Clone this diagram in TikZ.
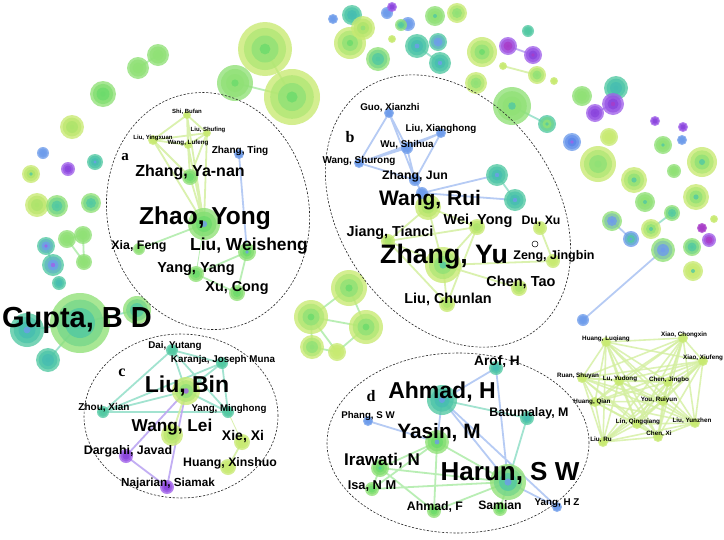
\documentclass[tikz,border=0pt]{standalone}
\usepackage{fontspec}
\setmainfont{Liberation Sans}
\newfontfamily\serifb{Liberation Serif}
\definecolor{cLime}{HTML}{C8EA72}
\definecolor{cLimeI}{HTML}{ADE46B}
\definecolor{cGreen}{HTML}{90E176}
\definecolor{cGreenI}{HTML}{6CDB6C}
\definecolor{cTeal}{HTML}{52C9A2}
\definecolor{cTealI}{HTML}{46BDB2}
\definecolor{cBlue}{HTML}{6E9CEB}
\definecolor{cBlueI}{HTML}{5A86EA}
\definecolor{cPurp}{HTML}{A060EA}
\definecolor{cPurpI}{HTML}{8A44DC}
\definecolor{cMag}{HTML}{A83CC8}
\definecolor{eLc}{HTML}{D4EFA0}
\definecolor{eGc}{HTML}{A8EAA2}
\definecolor{eTc}{HTML}{92DFC8}
\definecolor{eBc}{HTML}{AFC6F3}
\definecolor{ePc}{HTML}{BCA6F2}
\pgfdeclarelayer{bgpaper}
\pgfdeclarelayer{edges}
\pgfsetlayers{bgpaper,edges,main}
\newcommand\bub[7]{%
  \coordinate (#1) at (#2,#3);
  \fill[#5,opacity=.78] (#1) circle (#4pt);
  \fill[#5!55!#6,opacity=.75] (#1) circle ({0.78*#4pt});
  \fill[#6,opacity=.8] (#1) circle ({0.5*#4pt});
  \fill[#7,opacity=.8] (#1) circle ({0.2*#4pt});
}
\begin{document}
\begin{tikzpicture}[x=1pt,y=-1pt,
  lab/.style={inner sep=0pt, font=\bfseries\fontsize{#1}{#1}\selectfont},
  tag/.style={inner sep=0pt, font=\serifb\bfseries\fontsize{#1}{#1}\selectfont},
  ell/.style={draw=black!85, line width=.6pt, dash pattern=on 2.2pt off 1.6pt},
  eL/.style={draw=eLc, line width=1.8pt, opacity=.85},
  eG/.style={draw=eGc, line width=1.8pt, opacity=.8},
  eT/.style={draw=eTc, line width=1.8pt, opacity=.85},
  eB/.style={draw=eBc, line width=1.8pt, opacity=.9},
  eP/.style={draw=ePc, line width=1.8pt, opacity=.9},
  eR/.style={draw=eLc, line width=1.6pt, opacity=.8}]
\begin{pgfonlayer}{bgpaper}
\fill[white] (0,0) rectangle (724,539);
\end{pgfonlayer}
\useasboundingbox (0,0) rectangle (724,539);

% ---------- top-left scattered bubbles
\bub{t1}{265}{49}{27}{cLime}{cGreen}{cGreenI}
\bub{t2}{292}{97}{28}{cLime}{cGreen}{cGreenI}
\bub{t3}{235}{83}{18}{cGreen}{cGreen}{cGreenI}
\bub{t4}{158}{55}{11}{cGreen}{cGreen}{cGreen}
\bub{t5}{138}{68}{11}{cGreen}{cGreen}{cGreen}
\bub{t6}{103}{94}{13}{cGreen}{cGreenI}{cGreenI}
\bub{t7}{72}{127}{12}{cLime}{cLimeI}{cLimeI}
\bub{t8}{43}{153}{6}{cBlue}{cBlue}{cBlue}
\bub{t9}{68}{169}{7}{cPurp}{cPurpI}{cPurpI}
\bub{t10}{95}{162}{8}{cTeal}{cTealI}{cBlue}
\bub{t11}{31}{174}{9}{cLime}{cLimeI}{cTeal}
\bub{t12}{37}{205}{12}{cLime}{cLimeI}{cLimeI}
\bub{t13}{57}{206}{11}{cGreen}{cTeal}{cTeal}
\bub{t14}{91}{203}{10}{cGreen}{cTeal}{cTeal}
\bub{t15}{46}{246}{9}{cTeal}{cBlue}{cPurp}
\bub{t16}{67}{239}{9}{cGreen}{cGreen}{cGreen}
\bub{t17}{83}{235}{9}{cGreen}{cGreen}{cGreen}
\bub{t18}{84}{262}{8}{cGreen}{cGreen}{cGreen}
\bub{t19}{53}{265}{11}{cTeal}{cBlue}{cPurp}
\bub{t20}{59}{283}{7}{cTeal}{cTealI}{cTealI}
\bub{g2}{27}{330}{17}{cTeal}{cTealI}{cBlue}
\bub{g3}{48}{360}{12}{cTeal}{cTealI}{cTealI}
\bub{g4}{137}{310}{14}{cGreen}{cTeal}{cTeal}
\bub{g1}{80}{323}{30}{cGreen}{cTeal}{cTeal}

% ---------- bubbles below b
\bub{p1}{349}{288}{18}{cLime}{cGreen}{cGreenI}
\bub{p2}{311}{317}{17}{cLime}{cGreen}{cGreenI}
\bub{p3}{366}{327}{17}{cLime}{cGreen}{cGreenI}
\bub{p4}{312}{347}{12}{cLime}{cGreen}{cGreen}
\bub{p5}{337}{352}{9}{cLime}{cLime}{cLime}

% ---------- top-right scattered bubbles
\bub{s1}{333}{19}{5}{cBlue}{cBlue}{cBlue}
\bub{s2}{352}{15}{10}{cTeal}{cTealI}{cTealI}
\bub{s4}{350}{43}{16}{cLime}{cGreen}{cGreenI}
\bub{s3}{363}{28}{12}{cLime}{cLimeI}{cGreen}
\bub{s5}{387}{13}{6}{cBlue}{cBlue}{cBlue}
\bub{s6}{392}{7}{5}{cPurp}{cPurpI}{cPurpI}
\bub{s7}{408}{24}{7}{cBlue}{cBlue}{cBlue}
\bub{s8}{401}{25}{6}{cGreen}{cTeal}{cTeal}
\bub{s9}{435}{16}{10}{cGreen}{cGreen}{cTeal}
\bub{s10}{457}{13}{10}{cLime}{cGreen}{cGreen}
\bub{s11}{392}{39}{4}{cLime}{cLime}{cLime}
\bub{s12}{417}{46}{12}{cTeal}{cTealI}{cBlue}
\bub{s13}{438}{42}{9}{cTeal}{cBlue}{cBlue}
\bub{s14}{378}{59}{12}{cGreen}{cTeal}{cTeal}
\bub{s15}{440}{63}{11}{cTeal}{cTealI}{cBlue}
\bub{s16}{482}{52}{15}{cLime}{cGreen}{cGreenI}
\bub{s17}{508}{46}{9}{cPurp}{cMag}{cMag}
\bub{s18}{528}{31}{6}{cTeal}{cTeal}{cTeal}
\bub{s19}{533}{55}{9}{cPurp}{cPurpI}{cMag}
\bub{s20}{503}{66}{4}{cLime}{cLime}{cLime}
\bub{s21}{537}{75}{9}{cLime}{cGreen}{cGreen}
\bub{s22}{554}{81}{4}{cLime}{cLime}{cLime}
\bub{s23}{476}{83}{11}{cLime}{cGreen}{cGreen}
\bub{s24}{512}{106}{19}{cGreen}{cGreen}{cTeal}
\bub{s25}{547}{124}{9}{cTeal}{cGreen}{cTeal}
\bub{s26}{582}{96}{10}{cGreen}{cGreen}{cGreen}
\bub{s27}{616}{88}{12}{cTeal}{cTealI}{cTealI}
\bub{s28}{613}{104}{11}{cPurp}{cPurpI}{cMag}
\bub{s29}{595}{113}{9}{cPurp}{cPurpI}{cPurpI}
\bub{s30}{572}{142}{9}{cBlue}{cBlueI}{cPurp}
\bub{s31}{609}{137}{9}{cLime}{cLime}{cLime}
\bub{s32}{598}{164}{18}{cLime}{cGreen}{cGreen}
\bub{s33}{655}{121}{5}{cPurp}{cPurpI}{cPurpI}
\bub{s34}{683}{127}{5}{cPurp}{cPurpI}{cPurpI}
\bub{s35}{682}{140}{5}{cBlue}{cBlue}{cBlue}
\bub{s36}{663}{145}{9}{cGreen}{cGreen}{cTeal}
\bub{s37}{702}{162}{15}{cLime}{cGreen}{cTeal}
\bub{s38}{634}{180}{13}{cLime}{cGreen}{cTeal}
\bub{s39}{674}{171}{7}{cGreen}{cGreen}{cGreen}
\bub{s40}{645}{202}{10}{cGreen}{cGreen}{cTeal}
\bub{s41}{696}{197}{13}{cLime}{cGreen}{cTeal}
\bub{s42}{672}{213}{8}{cGreen}{cTeal}{cTeal}
\bub{s43}{612}{221}{10}{cGreen}{cBlue}{cBlue}
\bub{s44}{651}{229}{10}{cLime}{cGreen}{cTeal}
\bub{s45}{631}{239}{8}{cBlue}{cTeal}{cBlue}
\bub{s46}{714}{219}{4}{cLime}{cLime}{cLime}
\bub{s47}{702}{228}{5}{cMag}{cMag}{cMag}
\bub{s48}{709}{240}{7}{cPurp}{cMag}{cMag}
\bub{s49}{692}{247}{9}{cGreen}{cTeal}{cTeal}
\bub{s50}{663}{250}{12}{cGreen}{cBlue}{cBlue}
\bub{s51}{693}{271}{10}{cLime}{cLime}{cTeal}
\bub{s52}{583}{320}{6}{cBlue}{cBlue}{cBlue}

% ---------- cluster a
\bub{sb}{187}{115}{4}{cLime}{cLime}{cLime}
\bub{ls}{207}{133}{4}{cLime}{cLime}{cLime}
\bub{ly}{153}{140}{5}{cLime}{cLime}{cLime}
\bub{wl}{188}{145}{4}{cLime}{cLime}{cLime}
\bub{zt}{239}{154}{5}{cBlue}{cBlue}{cBlue}
\bub{zyn}{190}{177}{8}{cGreen}{cGreenI}{cGreenI}
\bub{zy}{204}{224}{16}{cGreen}{cGreenI}{cBlue}
\bub{xf}{139}{249}{6}{cGreen}{cGreen}{cGreen}
\bub{lw}{247}{252}{9}{cGreen}{cGreenI}{cBlue}
\bub{yy}{196}{274}{8}{cGreen}{cGreenI}{cGreenI}
\bub{xc}{237}{293}{8}{cGreen}{cGreenI}{cGreenI}

% ---------- cluster b
\bub{gx}{389}{113}{5}{cBlue}{cBlue}{cBlue}
\bub{lx}{441}{133}{5}{cBlue}{cBlue}{cBlue}
\bub{ws}{407}{148}{6}{cBlue}{cBlue}{cBlue}
\bub{wsr}{359}{163}{5}{cBlue}{cBlue}{cBlue}
\bub{zj}{415}{180}{6}{cBlue}{cBlue}{cBlue}
\bub{wr}{428}{207}{13}{cLime}{cLimeI}{cLimeI}
\bub{wrb}{422}{193}{6}{cBlue}{cBlue}{cBlue}
\bub{bt1}{497}{175}{11}{cTeal}{cTealI}{cBlue}
\bub{bt2}{515}{200}{11}{cTeal}{cTealI}{cBlue}
\bub{wy}{477}{227}{8}{cLime}{cLimeI}{cLimeI}
\bub{dx}{540}{228}{7}{cLime}{cLime}{cLime}
\coordinate (oc) at (535,244);
\draw[line width=.5pt] (oc) circle (3pt);
\bub{jt}{388}{241}{7}{cLime}{cLimeI}{cLimeI}
\bub{zyu}{443}{265}{18}{cLime}{cGreen}{cTeal}
\bub{zjb}{553}{261}{7}{cLime}{cLime}{cLime}
\bub{ct}{519}{288}{8}{cLime}{cLimeI}{cLimeI}
\bub{lc}{447}{304}{8}{cLime}{cLimeI}{cLimeI}

% ---------- cluster c
\bub{dy}{172}{350}{6}{cTeal}{cTeal}{cTeal}
\bub{kj}{222}{363}{6}{cTeal}{cTeal}{cTeal}
\bub{lb}{186}{391}{14}{cLime}{cGreen}{cPurp}
\bub{zx}{103}{412}{6}{cTeal}{cTeal}{cTeal}
\bub{ym}{228}{412}{6}{cTeal}{cTeal}{cTeal}
\bub{wlei}{172}{435}{11}{cLime}{cLimeI}{cLimeI}
\bub{xx}{242}{442}{8}{cLime}{cLime}{cLime}
\bub{dj}{126}{456}{7}{cPurp}{cPurpI}{cPurpI}
\bub{hx}{228}{467}{8}{cLime}{cLime}{cLime}
\bub{ns}{167}{487}{7}{cPurp}{cPurpI}{cPurpI}

% ---------- cluster d
\bub{ar}{496}{368}{7}{cTeal}{cTealI}{cTealI}
\bub{ah}{442}{400}{15}{cTeal}{cTealI}{cBlue}
\bub{ph}{368}{421}{5}{cBlue}{cBlue}{cBlue}
\bub{bm}{527}{418}{7}{cTeal}{cTealI}{cTealI}
\bub{ys}{437}{442}{12}{cGreen}{cGreenI}{cBlue}
\bub{iw}{380}{468}{9}{cGreen}{cGreenI}{cTeal}
\bub{hs}{508}{482}{18}{cGreen}{cTeal}{cBlue}
\bub{isa}{372}{489}{7}{cGreen}{cGreenI}{cGreenI}
\bub{af}{434}{511}{7}{cGreen}{cGreenI}{cGreenI}
\bub{sm}{500}{509}{7}{cGreen}{cGreenI}{cGreenI}
\bub{yh}{557}{507}{5}{cBlue}{cBlue}{cBlue}

% ---------- right cluster
\bub{hl}{606}{342}{5}{cLime}{cLime}{cLime}
\bub{xcx}{683}{338}{5}{cLime}{cLime}{cLime}
\bub{xxf}{703}{361}{5}{cLime}{cLime}{cLime}
\bub{rs}{582}{378}{5}{cLime}{cLime}{cLime}
\bub{lyd}{619}{381}{5}{cLime}{cLime}{cLime}
\bub{cj}{668}{382}{5}{cLime}{cLime}{cLime}
\bub{hq}{595}{402}{5}{cLime}{cLime}{cLime}
\bub{yr}{663}{401}{5}{cLime}{cLime}{cLime}
\bub{lq}{637}{424}{5}{cLime}{cLime}{cLime}
\bub{lyz}{695}{423}{5}{cLime}{cLime}{cLime}
\bub{cx}{658}{437}{5}{cLime}{cLime}{cLime}
\bub{lr}{603}{442}{5}{cLime}{cLime}{cLime}

% ---------- edges (behind)
\begin{pgfonlayer}{edges}
\draw[eG] (t1)--(t2) (t3)--(t2) (t4)--(t5) (t16)--(t17) (t16)--(t18) (t17)--(t18);
\draw[eT] (t15)--(t19) (g1)--(g2) (g1)--(g3) (g1)--(g4);
\draw[eG] (p1)--(p2) (p1)--(p3) (p2)--(p3) (p2)--(p4) (p3)--(p5) (p4)--(p5) (p2)--(p5);
\draw[eT] (s12)--(s15) (s24)--(s25) (s44)--(s42) (s3)--(s4);
\draw[eP] (s17)--(s19) (s28)--(s29);
\draw[eL] (s20)--(s21);
\draw[eB] (s43)--(s45) (s50)--(s52);
% a
\draw[eL] (zy)--(sb) (zy)--(ly) (zy)--(wl) (zy)--(ls) (zy)--(zyn)
  (zyn)--(sb) (zyn)--(ly) (zyn)--(wl) (zyn)--(ls)
  (sb)--(ly) (sb)--(wl) (sb)--(ls) (ly)--(wl) (ly)--(ls) (wl)--(ls);
\draw[eB] (zt)--(lw);
\draw[eG] (zy)--(xf) (lw)--(yy) (lw)--(xc) (yy)--(xc);
\draw[eG, line width=.8pt] (zy)--(yy);
% b
\draw[eB] (gx)--(ws) (gx)--(wsr) (gx)--(zj) (lx)--(ws) (lx)--(wsr) (lx)--(zj)
  (ws)--(wsr) (ws)--(zj) (wsr)--(zj) (zj)--(wrb) (wrb)--(bt1) (wrb)--(bt2);
\draw[eT] (bt1)--(bt2);
\draw[eL] (wr)--(zyu) (wr)--(jt) (wr)--(wy) (zyu)--(jt) (zyu)--(wy) (zyu)--(lc)
  (zyu)--(ct) (zyu)--(zjb) (wy)--(lc) (jt)--(lc) (dx)--(zjb) (wy)--(jt);
% c
\draw[eT] (lb)--(dy) (lb)--(kj) (lb)--(zx) (lb)--(ym) (dy)--(kj) (dy)--(zx)
  (dy)--(ym) (kj)--(zx) (kj)--(ym) (zx)--(ym);
\draw[eP] (lb)--(dj) (lb)--(ns) (dj)--(ns);
\draw[eL] (lb)--(wlei) (xx)--(hx);
\draw[eL, line width=.8pt] (ym)--(xx);
% d
\draw[eB] (ah)--(ar) (ph)--(ys) (ah)--(ys) (ah)--(hs) (ar)--(hs) (hs)--(yh) (ah)--(yh);
\draw[eT] (ah)--(bm) (bm)--(hs);
\draw[eG] (ys)--(hs) (ys)--(iw) (ys)--(isa) (ys)--(af) (iw)--(hs) (isa)--(hs)
  (iw)--(isa) (iw)--(af) (af)--(hs) (sm)--(hs);
% right cluster
\foreach \p [count=\i] in {hl,xcx,xxf,rs,lyd,cj,hq,yr,lq,lyz,cx,lr}{
  \foreach \q [count=\j] in {hl,xcx,xxf,rs,lyd,cj,hq,yr,lq,lyz,cx,lr}{
    \ifnum\i<\j \draw[eR] (\p)--(\q); \fi}}
\end{pgfonlayer}

% ---------- ellipses
\coordinate (ea) at (208,211);
\coordinate (eb) at (448,211);
\coordinate (ec) at (181,416);
\coordinate (ed) at (458,443);
\draw[ell, rotate around={10:(ea)}] (ea) ellipse [x radius=101pt, y radius=119pt];
\draw[ell, rotate around={-55:(eb)}] (eb) ellipse [x radius=148pt, y radius=108pt];
\draw[ell] (ec) ellipse [x radius=97pt, y radius=82pt];
\draw[ell] (ed) ellipse [x radius=131pt, y radius=90pt];

% ---------- labels
\node[lab=29] (Lgu) at (77,320) {Gupta, B D};
% a
\node[tag=15] (Ta) at (125,157) {a};
\node[lab=6] (Lsb) at (187,112) {Shi, Bufan};
\node[lab=6] (Lls) at (208,130) {Liu, Shufing};
\node[lab=6] (Lly) at (153,138) {Liu, Yingxuan};
\node[lab=6.2] (Lwl) at (188,143) {Wang, Lufeng};
\node[lab=10] (Lzt) at (240,151) {Zhang, Ting};
\node[lab=16] (Lzyn) at (190,172) {Zhang, Ya-nan};
\node[lab=24.5] (Lzy) at (205,218) {Zhao, Yong};
\node[lab=12.4] (Lxf) at (139,246) {Xia, Feng};
\node[lab=17.4] (Llw) at (249,246) {Liu, Weisheng};
\node[lab=14.5] (Lyy) at (196,269) {Yang, Yang};
\node[lab=14.4] (Lxc) at (237,288) {Xu, Cong};
% b
\node[tag=16] (Tb) at (350,137) {b};
\node[lab=9.8] (Lgx) at (390,108) {Guo, Xianzhi};
\node[lab=9.8] (Llx) at (441,129) {Liu, Xianghong};
\node[lab=9.8] (Lws) at (407,145) {Wu, Shihua};
\node[lab=9.9] (Lwsr) at (359,161) {Wang, Shurong};
\node[lab=12.3] (Lzj) at (415,176) {Zhang, Jun};
\node[lab=21] (Lwr) at (430,200) {Wang, Rui};
\node[lab=14.5] (Lwy) at (478,221) {Wei, Yong};
\node[lab=12.3] (Ldx) at (541,221) {Du, Xu};
\node[lab=14.4] (Ljt) at (390,233) {Jiang, Tianci};
\node[lab=26.7] (Lzyu) at (444,257) {Zhang, Yu};
\node[lab=12.5] (Lzjb) at (554,256) {Zeng, Jingbin};
\node[lab=14.5] (Lct) at (521,282) {Chen, Tao};
\node[lab=14.4] (Llc) at (448,299) {Liu, Chunlan};
% c
\node[tag=16] (Tc) at (122,373) {c};
\node[lab=9.8] (Ldy) at (175,346) {Dai, Yutang};
\node[lab=9.8] (Lkj) at (223,360) {Karanja, Joseph Muna};
\node[lab=23] (Llb) at (187,386) {Liu, Bin};
\node[lab=10] (Lzx) at (104,408) {Zhou, Xian};
\node[lab=9.7] (Lym) at (229,409) {Yang, Minghong};
\node[lab=17.2] (Lwlei) at (172,427) {Wang, Lei};
\node[lab=14] (Lxx) at (243,437) {Xie, Xi};
\node[lab=12.4] (Ldj) at (128,451) {Dargahi, Javad};
\node[lab=12.3] (Lhx) at (230,463) {Huang, Xinshuo};
\node[lab=11.7] (Lns) at (168,483) {Najarian, Siamak};
% d
\node[tag=16] (Td) at (371,396) {d};
\node[lab=13.7] (Lar) at (497,362) {Arof, H};
\node[lab=23] (Lah) at (442,392) {Ahmad, H};
\node[lab=9.7] (Lph) at (368,416) {Phang, S W};
\node[lab=12.4] (Lbm) at (529,413) {Batumalay, M};
\node[lab=20.8] (Lys) at (439,433) {Yasin, M};
\node[lab=17] (Liw) at (382,461) {Irawati, N};
\node[lab=26] (Lhs) at (510,473) {Harun, S W};
\node[lab=12.8] (Lisa) at (372,486) {Isa, N M};
\node[lab=12.3] (Laf) at (435,507) {Ahmad, F};
\node[lab=12.2] (Lsm) at (500,505) {Samian};
\node[lab=9.8] (Lyh) at (557,503) {Yang, H Z};
% right cluster
\node[lab=6.3] (Lhl) at (606,339) {Huang, Luqiang};
\node[lab=6.3] (Lxcx) at (684,335) {Xiao, Chongxin};
\node[lab=6.3] (Lxxf) at (703,358) {Xiao, Xiufeng};
\node[lab=6.3] (Lrs) at (578,376) {Ruan, Shuyan};
\node[lab=6.3] (Llyd) at (620,379) {Lu, Yudong};
\node[lab=6.3] (Lcj) at (669,380) {Chen, Jingbo};
\node[lab=6.3] (Lhq) at (592,402) {Huang, Qian};
\node[lab=6.3] (Lyr) at (659,400) {You, Ruiyun};
\node[lab=6.3] (Llq) at (638,422) {Lin, Qingqiang};
\node[lab=6.3] (Llyz) at (692,421) {Liu, Yunzhen};
\node[lab=6.3] (Lcx) at (659,434) {Chen, Xi};
\node[lab=6.3] (Llr) at (601,440) {Liu, Ru};
\end{tikzpicture}
\end{document}
